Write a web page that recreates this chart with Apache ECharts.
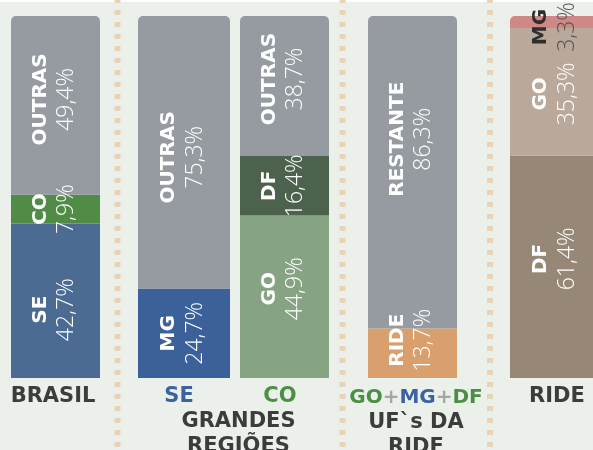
<!DOCTYPE html>
<html>
<head>
<meta charset="utf-8">
<script src="https://cdn.jsdelivr.net/npm/echarts@6/dist/echarts.min.js"></script>
<style>
  html, body { margin: 0; padding: 0; background: #ecf0eb; }
  #chart { width: 593px; height: 450px; }
</style>
</head>
<body>
<div id="chart"></div>
<script>
// rótulos das colunas
const colunas = ['BRASIL', 'SE', 'CO', 'GO+MG+DF', 'RIDE'];

// participação (%) de cada parte, de baixo para cima
const brasilNomes = ['SE', 'CO', 'OUTRAS'];
const brasilValores = [42.7, 7.9, 49.4];

const seNomes = ['MG', 'OUTRAS'];
const seValores = [24.7, 75.3];

const coNomes = ['GO', 'DF', 'OUTRAS'];
const coValores = [44.9, 16.4, 38.7];

const ufNomes = ['RIDE', 'RESTANTE'];
const ufValores = [13.7, 86.3];

const rideNomes = ['DF', 'GO', 'MG'];
const rideValores = [61.4, 35.3, 3.3];

// estilo
const CINZA = '#959ba0';
const barras = [
  { nomes: brasilNomes, valores: brasilValores, cores: ['#4c6b93', '#508c46', CINZA], ajuste: [9, 0, -6] },
  { nomes: seNomes, valores: seValores, cores: ['#3b609a', CINZA], ajuste: [0, 5] },
  { nomes: coNomes, valores: coValores, cores: ['#86a483', '#4d624c', CINZA], ajuste: [-8, 0, -7] },
  { nomes: ufNomes, valores: ufValores, cores: ['#d9a06e', CINZA], ajuste: [-13, -33] },
  { nomes: rideNomes, valores: rideValores, cores: ['#978777', '#baa99a', '#d08886'], ajuste: [-8, 2, 5] }
];
const grades = [
  { left: 11, width: 89 },
  { left: 138, width: 92 },
  { left: 240, width: 89 },
  { left: 368, width: 89 },
  { left: 510, width: 92 }
];
const corEixo = ['#3c3c3c', '#3d62a0', '#4a8f42', '#3c3c3c', '#3c3c3c'];
const padEixo = [[0, 5, 0, 0], [0, 10, 0, 0], [0, 9, 0, 0], [0, 0, 0, 7], [0, 0, 0, 2]];

const fonteNome = 'DejaVu Sans';
const fonteValor = '"Open Sans", Lato, sans-serif';

function fmt(v) {
  return v.toFixed(1).replace('.', ',') + '%';
}

let grid = [], xAxis = [], yAxis = [], series = [];
barras.forEach((b, i) => {
  grid.push({
    left: grades[i].left, width: grades[i].width, top: 16, bottom: 72,
    containLabel: false, outerBoundsMode: 'none'
  });
  xAxis.push({
    type: 'category',
    gridIndex: i,
    data: [colunas[i]],
    axisLine: { show: false },
    axisTick: { show: false },
    axisLabel: {
      margin: 7,
      color: corEixo[i],
      fontFamily: fonteNome,
      fontWeight: 'bold',
      fontSize: 21,
      lineHeight: 24,
      padding: padEixo[i],
      formatter: i === 3
        ? '{g|GO}{p|+}{m|MG}{p|+}{g|DF}\n{d|UF`s DA}\n{d|RIDE}'
        : '{value}',
      rich: {
        g: { color: '#4a8f42', fontFamily: fonteNome, fontWeight: 'bold', fontSize: 20, lineHeight: 25 },
        m: { color: '#3d62a0', fontFamily: fonteNome, fontWeight: 'bold', fontSize: 20, lineHeight: 25 },
        p: { color: '#a3a6a3', fontFamily: fonteNome, fontWeight: 'bold', fontSize: 20, lineHeight: 25 },
        d: { color: '#3c3c3c', fontFamily: fonteNome, fontWeight: 'bold', fontSize: 21, lineHeight: 25 }
      }
    }
  });
  yAxis.push({ type: 'value', gridIndex: i, min: 0, max: 100, show: false });

  b.nomes.forEach((nome, j) => {
    const topo = j === b.nomes.length - 1;
    const escuro = i === 4 && j === 2; // MG da RIDE: rótulo escuro
    const sy = b.ajuste[j], sx = -2;
    series.push({
      type: 'bar',
      name: nome,
      xAxisIndex: i,
      yAxisIndex: i,
      stack: 'b' + i,
      barWidth: '100%',
      silent: true,
      data: [b.valores[j]],
      itemStyle: { color: b.cores[j], borderRadius: topo ? [5, 5, 0, 0] : 0 },
      label: {
        show: true,
        position: 'inside',
        rotate: 90,
        offset: [-sy, sx],
        formatter: () => '{n|' + nome + '}\n{v|' + fmt(b.valores[j]) + '}',
        rich: {
          n: { fontFamily: fonteNome, fontWeight: 'bold', fontSize: 20, lineHeight: 26, color: escuro ? '#2e2e2e' : '#fff' },
          v: { fontFamily: fonteValor, fontWeight: 300, fontSize: 23, lineHeight: 26, color: escuro ? '#555' : '#fff' }
        }
      }
    });
  });
});

// divisórias pontilhadas
const divisorias = [117.5, 342.5, 490].map(x => ({
  type: 'line',
  silent: true,
  z: 10,
  shape: { x1: x, y1: -2, x2: x, y2: 452 },
  style: { stroke: '#e5d4b7', lineWidth: 6, lineDash: [5, 7] }
}));

const myChart = echarts.init(document.getElementById('chart'));
myChart.setOption({
  backgroundColor: '#ecf0eb',
  animation: false,
  grid: grid,
  xAxis: xAxis,
  yAxis: yAxis,
  series: series,
  graphic: [
    { type: 'rect', silent: true, shape: { x: 0, y: 0, width: 593, height: 2 }, style: { fill: '#fff' } },
    ...divisorias,
    {
      type: 'text',
      silent: true,
      x: 238.5,
      y: 409,
      style: {
        text: 'GRANDES\nREGIÕES',
        fill: '#3c3c3c',
        font: 'bold 21px "DejaVu Sans"',
        lineHeight: 25,
        textAlign: 'center'
      }
    }
  ]
});
window.addEventListener('resize', function () {
  myChart.resize();
});
</script>
</body>
</html>
